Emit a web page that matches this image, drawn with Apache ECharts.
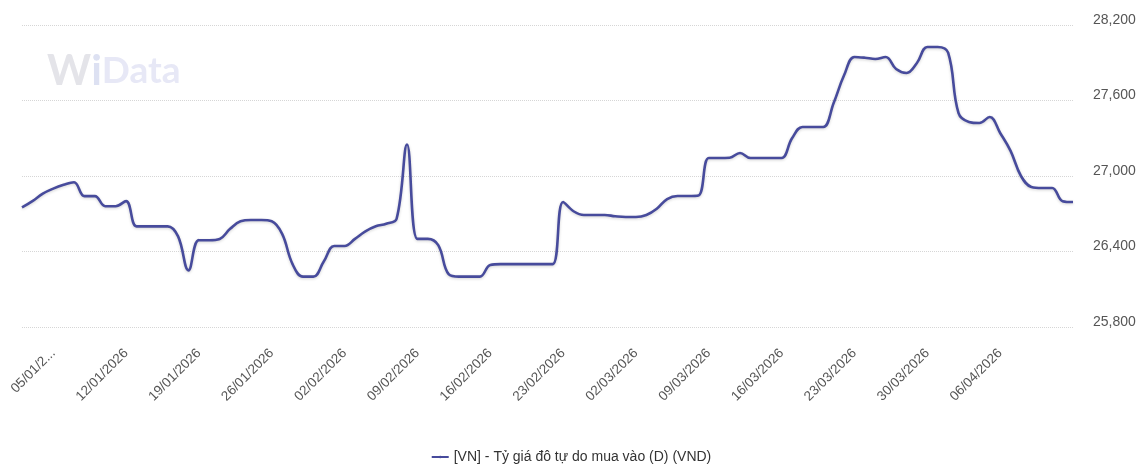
<!DOCTYPE html>
<html>
<head>
<meta charset="utf-8">
<title>Tỷ giá đô tự do mua vào</title>
<script src="https://cdn.jsdelivr.net/npm/echarts@6/dist/echarts.min.js"></script>
<style>
    html, body { margin: 0; padding: 0; background: #fff; }
    #line_rate { width: 1142px; height: 465px; }
</style>
</head>
<body>
<div id="line_rate"></div>
<script>

// Chart data
// ------------------------------

var seriesName = '[VN] - Tỷ giá đô tự do mua vào (D) (VND)';

// Daily dates, 02/01/2026 - 13/04/2026
var dates = [
    '02/01/2026', '03/01/2026', '04/01/2026', '05/01/2026', '06/01/2026', '07/01/2026', '08/01/2026',
    '09/01/2026', '10/01/2026', '11/01/2026', '12/01/2026', '13/01/2026', '14/01/2026', '15/01/2026',
    '16/01/2026', '17/01/2026', '18/01/2026', '19/01/2026', '20/01/2026', '21/01/2026', '22/01/2026',
    '23/01/2026', '24/01/2026', '25/01/2026', '26/01/2026', '27/01/2026', '28/01/2026', '29/01/2026',
    '30/01/2026', '31/01/2026', '01/02/2026', '02/02/2026', '03/02/2026', '04/02/2026', '05/02/2026',
    '06/02/2026', '07/02/2026', '08/02/2026', '09/02/2026', '10/02/2026', '11/02/2026', '12/02/2026',
    '13/02/2026', '14/02/2026', '15/02/2026', '16/02/2026', '17/02/2026', '18/02/2026', '19/02/2026',
    '20/02/2026', '21/02/2026', '22/02/2026', '23/02/2026', '24/02/2026', '25/02/2026', '26/02/2026',
    '27/02/2026', '28/02/2026', '01/03/2026', '02/03/2026', '03/03/2026', '04/03/2026', '05/03/2026',
    '06/03/2026', '07/03/2026', '08/03/2026', '09/03/2026', '10/03/2026', '11/03/2026', '12/03/2026',
    '13/03/2026', '14/03/2026', '15/03/2026', '16/03/2026', '17/03/2026', '18/03/2026', '19/03/2026',
    '20/03/2026', '21/03/2026', '22/03/2026', '23/03/2026', '24/03/2026', '25/03/2026', '26/03/2026',
    '27/03/2026', '28/03/2026', '29/03/2026', '30/03/2026', '31/03/2026', '01/04/2026', '02/04/2026',
    '03/04/2026', '04/04/2026', '05/04/2026', '06/04/2026', '07/04/2026', '08/04/2026', '09/04/2026',
    '10/04/2026', '11/04/2026', '12/04/2026', '13/04/2026'
];

// Buy rate (VND)
var buyRate = [
    26750, 26800, 26860, 26900, 26930, 26950, 26840,
    26840, 26760, 26760, 26800, 26600, 26600, 26600,
    26600, 26520, 26250, 26490, 26490, 26500, 26580,
    26640, 26650, 26650, 26640, 26540, 26300, 26200,
    26200, 26320, 26444, 26444, 26500, 26560, 26600,
    26620, 26660, 27250, 26500, 26500, 26450, 26220,
    26200, 26200, 26200, 26293, 26300, 26300, 26300,
    26300, 26300, 26300, 26793, 26720, 26690, 26690,
    26690, 26680, 26674, 26674, 26690, 26740, 26817,
    26841, 26841, 26845, 27143, 27143, 27145, 27183,
    27143, 27143, 27143, 27143, 27300, 27390, 27390,
    27390, 27580, 27800, 27946, 27940, 27930, 27946,
    27850, 27819, 27898, 28025, 28025, 27980, 27500,
    27430, 27421, 27469, 27342, 27200, 27000, 26913,
    26905, 26905, 26800, 26793
];

// Value axis ticks
var yTicks = [25800, 26400, 27000, 27600, 28200];

// Date axis labels that are shortened in the picture
var xTickLabels = {
    '05/01/2026': '05/01/2...'
};


// Setup module
// ------------------------------

var EchartsRateLine = function() {

    var _rateLine = function() {
        if (typeof echarts == 'undefined') {
            console.warn('Warning - echarts.min.js is not loaded.');
            return;
        }

        var line_element = document.getElementById('line_rate');

        if (line_element) {

            var line_rate = echarts.init(line_element);

            line_rate.setOption({

                animation: false,

                textStyle: {
                    fontFamily: '"Liberation Sans", Arial, sans-serif',
                    fontSize: 14
                },

                // Watermark
                graphic: [{
                    type: 'text',
                    left: 47,
                    top: 50,
                    silent: true,
                    style: {
                        text: '{w|W}{i|i}{d|Data}',
                        rich: {
                            w: { fontSize: 42, fontWeight: 'bold', fill: '#e4e4e9', fontFamily: 'Lato, sans-serif' },
                            i: { fontSize: 42, fontWeight: 'bold', fill: '#dde1f2', fontFamily: 'Lato, sans-serif' },
                            d: { fontSize: 37, fontWeight: 'bold', fill: '#e7e8f6', fontFamily: 'Lato, sans-serif' }
                        }
                    }
                }],

                grid: {
                    left: 22,
                    right: 69,
                    top: 25,
                    bottom: 138,
                    containLabel: false
                },

                legend: {
                    data: [seriesName],
                    top: 450,
                    left: 'center',
                    padding: [0, 5, 0, 5],
                    itemWidth: 17,
                    itemHeight: 3,
                    itemGap: 10,
                    textStyle: {
                        color: '#333',
                        fontSize: 14
                    }
                },

                xAxis: [{
                    type: 'category',
                    boundaryGap: false,
                    data: dates,
                    axisLine: { show: false },
                    axisTick: { show: false },
                    axisLabel: {
                        rotate: 45,
                        margin: 24,
                        color: '#555',
                        fontSize: 13.5,
                        showMaxLabel: false,
                        interval: function(index) {
                            return index >= 3 && (index - 3) % 7 === 0;
                        },
                        formatter: function(value) {
                            return xTickLabels[value] || value;
                        }
                    },
                    splitLine: { show: false }
                }],

                yAxis: [{
                    type: 'value',
                    position: 'right',
                    min: yTicks[0],
                    max: yTicks[yTicks.length - 1],
                    interval: yTicks[1] - yTicks[0],
                    axisLine: { show: false },
                    axisTick: { show: false },
                    axisLabel: {
                        margin: 20,
                        color: '#555',
                        fontSize: 14,
                        verticalAlign: 'bottom',
                        lineHeight: 10,
                        formatter: function(v) {
                            return v.toLocaleString('en-US');
                        }
                    },
                    splitLine: {
                        lineStyle: {
                            color: '#d6d6d6',
                            type: 'dotted',
                            width: 1
                        }
                    }
                }],

                series: [{
                    name: seriesName,
                    type: 'line',
                    data: buyRate,
                    smooth: 0.4,
                    symbol: 'none',
                    itemStyle: { color: '#474b9c' },
                    lineStyle: {
                        color: '#474b9c',
                        width: 2.6,
                        shadowColor: 'rgba(0,0,0,0.18)',
                        shadowBlur: 3,
                        shadowOffsetY: 1
                    }
                }]
            });
        }
    };

    return {
        init: function() {
            _rateLine();
        }
    }
}();


// Initialize module
// ------------------------------

document.addEventListener('DOMContentLoaded', function() {
    EchartsRateLine.init();
});
</script>
</body>
</html>
